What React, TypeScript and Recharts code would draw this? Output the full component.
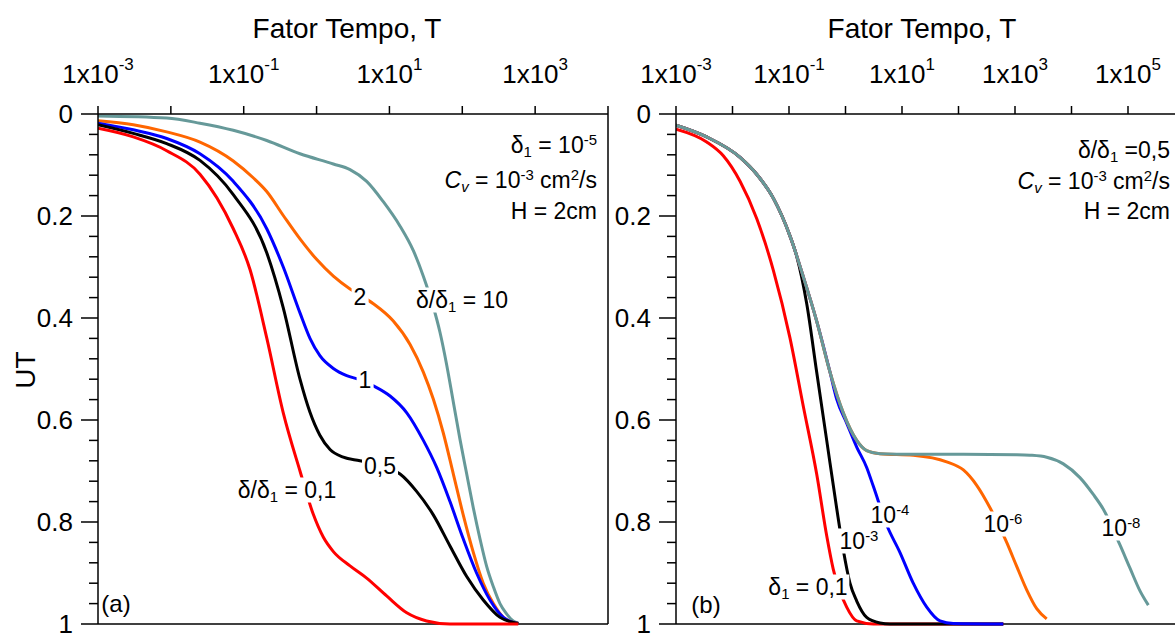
import React from 'react';
import { LineChart, Line, XAxis, YAxis, ReferenceLine } from 'recharts';

const FONT = '"Liberation Sans", Arial, Helvetica, sans-serif';

// (a) delta1 = 1e-5, curves for delta/delta1 — [T, UT]
const ratio10 = [
  [0.001, 0.004], [0.00877, 0.008], [0.0251, 0.018], [0.0719, 0.032], [0.207, 0.052], [0.592, 0.078],
  [1.7, 0.098], [2.88, 0.109], [4.87, 0.132], [8.24, 0.172], [14.0, 0.22], [21.3, 0.268], [29.2, 0.318],
  [40.0, 0.378], [49.4, 0.428], [61.1, 0.492], [75.4, 0.565], [93.0, 0.638], [115, 0.706], [142, 0.773],
  [175, 0.833], [216, 0.887], [267, 0.927], [329, 0.96], [406, 0.98], [501, 0.994], [587, 0.998],
];
const ratio2 = [
  [0.001, 0.013], [0.00305, 0.021], [0.00877, 0.035], [0.0251, 0.055], [0.0719, 0.092], [0.135, 0.125],
  [0.207, 0.152], [0.349, 0.199], [0.592, 0.245], [1.0, 0.285], [1.7, 0.318], [2.88, 0.343], [3.94, 0.355],
  [6.01, 0.372], [11.3, 0.406], [19.2, 0.452], [29.2, 0.506], [40.0, 0.559], [55.0, 0.626], [75.4, 0.706],
  [103, 0.786], [142, 0.86], [194, 0.92], [267, 0.96], [366, 0.987], [501, 0.997], [587, 0.999],
];
const ratio1 = [
  [0.001, 0.018], [0.00305, 0.031], [0.00877, 0.048], [0.0251, 0.078], [0.0719, 0.132], [0.207, 0.225],
  [0.349, 0.3], [0.592, 0.39], [0.812, 0.44], [1.11, 0.474], [1.7, 0.499], [2.59, 0.513], [3.94, 0.521],
  [6.01, 0.533], [10.2, 0.553], [17.3, 0.586], [29.2, 0.64], [44.5, 0.693], [67.8, 0.76], [103, 0.833],
  [157, 0.9], [240, 0.953], [366, 0.987], [501, 0.997], [587, 0.999],
];
const ratio05 = [
  [0.001, 0.021], [0.00305, 0.038], [0.00877, 0.058], [0.0251, 0.091], [0.0719, 0.158], [0.207, 0.272],
  [0.349, 0.38], [0.592, 0.52], [0.812, 0.585], [1.11, 0.63], [1.53, 0.658], [2.33, 0.673], [3.94, 0.68],
  [7.4, 0.69], [14.0, 0.706], [23.6, 0.74], [40.0, 0.786], [67.8, 0.847], [115, 0.907], [194, 0.953],
  [329, 0.987], [501, 0.997], [587, 0.999],
];
const ratio01 = [
  [0.001, 0.028], [0.00305, 0.045], [0.00877, 0.072], [0.0251, 0.118], [0.0719, 0.225], [0.122, 0.305],
  [0.207, 0.439], [0.349, 0.586], [0.592, 0.7], [0.902, 0.785], [1.24, 0.83], [1.7, 0.858],
  [2.88, 0.886], [4.87, 0.91], [9.16, 0.945], [17.3, 0.978], [32.4, 0.994], [67.8, 1.0], [587, 1.0],
];

// (b) delta/delta1 = 0.5, curves for delta1
const d1e8 = [
  [0.001, 0.022], [0.00349, 0.045], [0.0136, 0.085], [0.0268, 0.118], [0.0527, 0.165], [0.104, 0.239],
  [0.179, 0.319], [0.309, 0.406], [0.532, 0.506], [0.914, 0.586], [1.58, 0.64], [2.37, 0.66], [4.08, 0.666],
  [15.8, 0.667], [122, 0.667], [1072, 0.668], [1841, 0.669], [3640, 0.673], [7170, 0.686], [14100, 0.713],
  [24300, 0.746], [36600, 0.775], [72100, 0.845], [108000, 0.89], [163000, 0.935], [229000, 0.963],
];
const d1e6 = [
  [0.001, 0.022], [0.00349, 0.045], [0.0136, 0.085], [0.0268, 0.118], [0.0527, 0.165], [0.104, 0.239],
  [0.179, 0.319], [0.309, 0.406], [0.532, 0.506], [0.914, 0.586], [1.58, 0.64], [2.37, 0.66], [4.08, 0.666],
  [15.8, 0.669], [61.7, 0.682], [122, 0.698], [210, 0.728], [361, 0.772], [713, 0.84], [1072, 0.887],
  [1611, 0.933], [2423, 0.97], [3640, 0.99],
];
const d1e4 = [
  [0.001, 0.022], [0.00349, 0.045], [0.0136, 0.085], [0.0268, 0.118], [0.0527, 0.165], [0.104, 0.239],
  [0.179, 0.319], [0.309, 0.406], [0.532, 0.506], [0.698, 0.559], [1.05, 0.606], [1.58, 0.653], [2.37, 0.693],
  [3.11, 0.73], [5.36, 0.806], [9.22, 0.86], [15.8, 0.92], [27.4, 0.967], [47.1, 0.994], [80.9, 0.999], [621, 1.0],
];
const d1e3 = [
  [0.001, 0.022], [0.00349, 0.045], [0.0136, 0.085], [0.0268, 0.118], [0.0527, 0.165], [0.104, 0.239],
  [0.137, 0.279], [0.206, 0.372], [0.309, 0.506], [0.465, 0.64], [0.698, 0.773], [0.914, 0.855], [1.2, 0.92],
  [1.58, 0.955], [2.37, 0.987], [4.08, 0.998], [6.14, 1.0], [621, 1.0],
];
const d1e1 = [
  [0.001, 0.03], [0.00349, 0.055], [0.00687, 0.082], [0.0136, 0.132], [0.0268, 0.205], [0.0527, 0.306],
  [0.104, 0.439], [0.179, 0.573], [0.309, 0.706], [0.465, 0.827], [0.608, 0.893], [1.05, 0.967], [1.58, 0.994],
  [3.11, 1.0], [621, 1.0],
];

const decadesA = [0.001, 0.01, 0.1, 1, 10, 100, 1000, 10000];
const decadesB = [0.001, 0.01, 0.1, 1, 10, 100, 1000, 10000, 100000, 1000000];
const utTicks = [
  0, 0.04, 0.08, 0.12, 0.16, 0.2, 0.24, 0.28, 0.32, 0.36, 0.4, 0.44, 0.48, 0.52, 0.56, 0.6,
  0.64, 0.68, 0.72, 0.76, 0.8, 0.84, 0.88, 0.92, 0.96, 1,
];

const TEAL = '#669999';
const ORANGE = '#FF6600';

const rows = (pts: number[][]) => pts.map(([t, ut]) => ({ t, ut }));

const TopTick = (props: any) => {
  const { x, y, payload } = props;
  const e = Math.round(Math.log10(payload.value));
  return (
    <g>
      <line x1={x} x2={x} y1={y} y2={y - 8} stroke="#000" strokeWidth={1.5} />
      {e % 2 !== 0 && (
        <text x={x} y={y - 31} textAnchor="middle" fontSize={26} fontFamily={FONT} fill="#000">
          1x10<tspan dy={-13} fontSize={17}>{e}</tspan>
        </text>
      )}
    </g>
  );
};

const LeftTick = (props: any) => {
  const { x, y, payload } = props;
  const v = payload.value;
  const major = Math.abs(v * 5 - Math.round(v * 5)) < 1e-6;
  return (
    <g>
      <line x1={x - (major ? 17 : 9)} x2={x} y1={y} y2={y} stroke="#000" strokeWidth={1.5} />
      {major && (
        <text x={x - 25} y={y + 9} textAnchor="end" fontSize={26} fontFamily={FONT} fill="#000">
          {String(Math.round(v * 10) / 10)}
        </text>
      )}
    </g>
  );
};

const Sup = ({ children }: any) => (
  <span style={{ fontSize: '0.65em', position: 'relative', top: '-0.55em' }}>{children}</span>
);
const Sub = ({ children }: any) => (
  <span style={{ fontSize: '0.65em', position: 'relative', top: '0.3em' }}>{children}</span>
);

const Note = ({ x, y, align = 'center', size = 23, bg = false, rotate = false, children }: any) => {
  const tx = align === 'center' ? '-50%' : align === 'right' ? '-100%' : '0';
  return (
    <div
      style={{
        position: 'absolute',
        left: x,
        top: y,
        transform: `translate(${tx}, -50%)${rotate ? ' rotate(-90deg)' : ''}`,
        fontSize: size,
        lineHeight: 1,
        whiteSpace: 'nowrap',
        color: '#000',
        background: bg ? '#fff' : 'transparent',
        padding: bg ? '1px 2px' : 0,
      }}
    >
      {children}
    </div>
  );
};

const axisLine = { stroke: '#000', strokeWidth: 1.5 };

const curve = (key: string, pts: number[][], color: string) => (
  <Line
    key={key}
    data={rows(pts)}
    dataKey="ut"
    type="monotone"
    stroke={color}
    strokeWidth={3}
    dot={false}
    activeDot={false}
    isAnimationActive={false}
  />
);

export default function App() {
  return (
    <div
      style={{
        position: 'absolute',
        left: 0,
        top: 0,
        width: 1175,
        height: 634,
        overflow: 'hidden',
        background: '#fff',
        fontFamily: FONT,
      }}
    >
      <div style={{ position: 'absolute', left: 0, top: 0 }}>
        <LineChart width={620} height={634} margin={{ top: 0, right: 12, bottom: 10, left: 0 }}>
          <XAxis
            dataKey="t"
            type="number"
            scale="log"
            domain={[0.001, 10000]}
            allowDataOverflow
            orientation="top"
            height={114}
            ticks={decadesA}
            interval={0}
            tickSize={0}
            tickMargin={0}
            tick={<TopTick />}
            axisLine={axisLine}
          />
          <YAxis
            type="number"
            domain={[0, 1]}
            reversed
            width={98}
            ticks={utTicks}
            interval={0}
            tickSize={0}
            tickMargin={0}
            tick={<LeftTick />}
            axisLine={axisLine}
          />
          <ReferenceLine x={10000} stroke="#000" strokeWidth={1.5} />
          <ReferenceLine y={1} stroke="#000" strokeWidth={1.5} />
          {curve('r10', ratio10, TEAL)}
          {curve('r2', ratio2, ORANGE)}
          {curve('r1', ratio1, '#0000FF')}
          {curve('r05', ratio05, '#000000')}
          {curve('r01', ratio01, '#FF0000')}
        </LineChart>
      </div>

      <div style={{ position: 'absolute', left: 600, top: 0 }}>
        <LineChart width={600} height={634} margin={{ top: 0, right: 15.5, bottom: 10, left: 0 }}>
          <XAxis
            dataKey="t"
            type="number"
            scale="log"
            domain={[0.001, 1000000]}
            allowDataOverflow
            orientation="top"
            height={114}
            ticks={decadesB}
            interval={0}
            tickSize={0}
            tickMargin={0}
            tick={<TopTick />}
            axisLine={axisLine}
          />
          <YAxis
            type="number"
            domain={[0, 1]}
            reversed
            width={76}
            ticks={utTicks}
            interval={0}
            tickSize={0}
            tickMargin={0}
            tick={<LeftTick />}
            axisLine={axisLine}
          />
          <ReferenceLine y={1} stroke="#000" strokeWidth={1.5} />
          {curve('b1', d1e1, '#FF0000')}
          {curve('b3', d1e3, '#000000')}
          {curve('b4', d1e4, '#0000FF')}
          {curve('b6', d1e6, ORANGE)}
          {curve('b8', d1e8, TEAL)}
        </LineChart>
      </div>

      <Note x={347} y={29} size={28}>Fator Tempo, T</Note>
      <Note x={922} y={29} size={28}>Fator Tempo, T</Note>
      <Note x={26} y={370} size={28} rotate>UT</Note>

      <Note x={597} y={145} align="right">δ<Sub>1</Sub> = 10<Sup>-5</Sup></Note>
      <Note x={597} y={180} align="right"><i>C<Sub>v</Sub></i> = 10<Sup>-3</Sup> cm<Sup>2</Sup>/s</Note>
      <Note x={597} y={211} align="right">H = 2cm</Note>

      <Note x={1170} y={150} align="right">δ/δ<Sub>1</Sub> =0,5</Note>
      <Note x={1170} y={181} align="right"><i>C<Sub>v</Sub></i> = 10<Sup>-3</Sup> cm<Sup>2</Sup>/s</Note>
      <Note x={1170} y={211} align="right">H = 2cm</Note>

      <Note x={360} y={297} bg>2</Note>
      <Note x={365} y={380} bg>1</Note>
      <Note x={380} y={466} bg>0,5</Note>
      <Note x={462} y={300} bg>δ/δ<Sub>1</Sub> = 10</Note>
      <Note x={287} y={490} bg>δ/δ<Sub>1</Sub> = 0,1</Note>
      <Note x={116} y={604} size={24}>(a)</Note>

      <Note x={808} y={587} bg>δ<Sub>1</Sub> = 0,1</Note>
      <Note x={859} y={541} bg>10<Sup>-3</Sup></Note>
      <Note x={890} y={515} bg>10<Sup>-4</Sup></Note>
      <Note x={1003} y={524} bg>10<Sup>-6</Sup></Note>
      <Note x={1121} y={528} bg>10<Sup>-8</Sup></Note>
      <Note x={706} y={605} size={24}>(b)</Note>
    </div>
  );
}
